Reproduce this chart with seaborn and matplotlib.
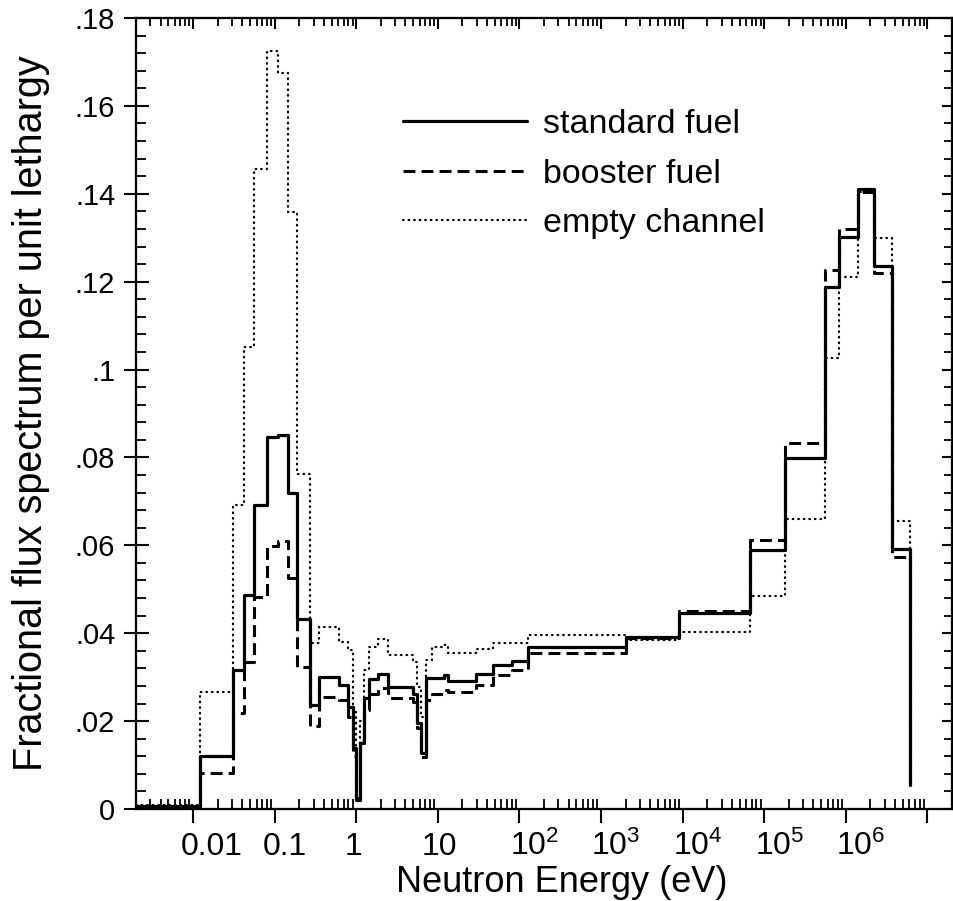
import numpy as np
import pandas as pd
import matplotlib
matplotlib.use("Agg")
import matplotlib.pyplot as plt
import matplotlib.ticker as mticker
import matplotlib.transforms as mtransforms
import seaborn as sns

# ---------------- data (group lower edges in eV, flux per unit lethargy) -------------
edges = [2e-3, 0.0121, 0.0309, 0.0418, 0.0562, 0.080, 0.109, 0.145, 0.187, 0.269,
         0.347, 0.61, 0.787, 0.91, 1.0, 1.1, 1.23, 1.42, 1.83, 2.42,
         4.9, 5.6, 6.3, 7.2, 8.4, 11.8, 13.5, 29, 47, 80,
         128, 2000, 9000, 67000, 1.8e5, 5.5e5, 8.2e5, 1.4e6, 2.2e6, 3.7e6,
         6.06e6]
standard_fuel = [0.0006, 0.0121, 0.0316, 0.0487, 0.0692, 0.0847, 0.0852, 0.0719, 0.0432, 0.0237,
                 0.0300, 0.0282, 0.0233, 0.0139, 0.0020, 0.0150, 0.0253, 0.0296, 0.0307, 0.0278,
                 0.0262, 0.0196, 0.0127, 0.0298, 0.0298, 0.0305, 0.0291, 0.0307, 0.0328, 0.0337,
                 0.0369, 0.0391, 0.0446, 0.0589, 0.0799, 0.1188, 0.1302, 0.1411, 0.1236, 0.0592,
                 0.0055]
booster_fuel = [0.0005, 0.0082, 0.0218, 0.0335, 0.0483, 0.0599, 0.0610, 0.0526, 0.0323, 0.0189,
                0.0255, 0.0248, 0.0210, 0.0120, 0.0025, 0.0157, 0.0225, 0.0262, 0.0275, 0.0253,
                0.0244, 0.0185, 0.0118, 0.0248, 0.0262, 0.0271, 0.0266, 0.0282, 0.0305, 0.0316,
                0.0355, 0.0389, 0.0451, 0.0612, 0.0833, 0.1227, 0.1320, 0.1405, 0.1220, 0.0574,
                0.0055]
empty_channel = [0.0008, 0.0267, 0.0692, 0.1052, 0.1457, 0.1725, 0.1675, 0.1359, 0.0762, 0.0378,
                 0.0415, 0.0380, 0.0362, 0.0220, 0.0120, 0.0200, 0.0316, 0.0369, 0.0387, 0.0350,
                 0.0335, 0.0278, 0.0210, 0.0339, 0.0369, 0.0373, 0.0355, 0.0364, 0.0378, 0.0378,
                 0.0396, 0.0385, 0.0403, 0.0485, 0.0660, 0.1027, 0.1211, 0.1405, 0.1299, 0.0656,
                 0.0055]
series_names = ["standard fuel", "booster fuel", "empty channel"]

x_ticks = [1e-2, 1e-1, 1, 10, 1e2, 1e3, 1e4, 1e5, 1e6, 1e7]
x_tick_labels = ["0.01", "0.1", "1", "10", "$10^2$", "$10^3$", "$10^4$", "$10^5$", "$10^6$", ""]
y_ticks = [0, 0.02, 0.04, 0.06, 0.08, 0.10, 0.12, 0.14, 0.16, 0.18]
y_tick_labels = ["0", ".02", ".04", ".06", ".08", ".1", ".12", ".14", ".16", ".18"]
x_limits = (2e-3, 2e7)
y_limits = (0, 0.18)

# ---------------- style ----------------
sns.set_theme(style="white")
plt.rcParams["font.family"] = ["Liberation Sans", "DejaVu Sans"]
plt.rcParams["mathtext.fontset"] = "custom"
plt.rcParams["mathtext.rm"] = "Liberation Sans"
plt.rcParams["mathtext.it"] = "Liberation Sans"
plt.rcParams["mathtext.default"] = "regular"
for key in ["text.color", "axes.labelcolor", "xtick.color", "ytick.color", "axes.edgecolor"]:
    plt.rcParams[key] = "black"

fig = plt.figure(figsize=(9.54, 9.01), dpi=100)
fig.patch.set_facecolor("white")
W, H = 954, 901
ax = fig.add_axes([136 / W, 1 - 809 / H, 816 / W, 791 / H])
ax.set_facecolor("white")

df = pd.DataFrame({
    "energy": edges * 3,
    "flux": standard_fuel + booster_fuel + empty_channel,
    "series": [series_names[0]] * len(edges) + [series_names[1]] * len(edges) + [series_names[2]] * len(edges),
})

styles = {
    "empty channel": dict(linewidth=1.6, linestyle=(0, (0.3, 2.2)), dash_capstyle="round"),
    "booster fuel": dict(linewidth=2.2, linestyle=(0, (3.9, 2.0)), dash_capstyle="butt"),
    "standard fuel": dict(linewidth=2.3, linestyle="-"),
}
for name in ["empty channel", "booster fuel", "standard fuel"]:
    sub = df[df["series"] == name]
    sns.lineplot(data=sub, x="energy", y="flux", ax=ax, color="black", estimator=None,
                 sort=False, drawstyle="steps-post", label=name, **styles[name])

ax.set_xscale("log")
ax.set_xlim(*x_limits)
ax.set_ylim(*y_limits)

# twin axes for inward ticks on top / right
ax_top = ax.twiny()
ax_right = ax.twinx()

ax_top.set_xscale("log")
ax_top.set_xlim(*x_limits)
ax_top.xaxis.set_major_locator(mticker.FixedLocator(x_ticks))
ax_top.xaxis.set_minor_locator(mticker.LogLocator(base=10, subs=np.arange(2, 10), numticks=100))
ax_top.tick_params(axis="x", which="major", direction="in", length=8, width=1.5,
                   top=True, bottom=False, labeltop=False, labelbottom=False)
ax_top.tick_params(axis="x", which="minor", direction="in", length=6, width=1.3,
                   top=True, bottom=False, labeltop=False, labelbottom=False)

ax_right.set_ylim(*y_limits)
ax_right.yaxis.set_major_locator(mticker.FixedLocator(y_ticks))
ax_right.yaxis.set_minor_locator(mticker.MultipleLocator(0.004))
ax_right.tick_params(axis="y", which="major", direction="in", length=7, width=1.5,
                     right=True, left=False, labelright=False, labelleft=False)
ax_right.tick_params(axis="y", which="minor", direction="in", length=6, width=1.3,
                     right=True, left=False, labelright=False, labelleft=False)

ax.xaxis.set_major_locator(mticker.FixedLocator(x_ticks))
ax.xaxis.set_minor_locator(mticker.LogLocator(base=10, subs=np.arange(2, 10), numticks=100))
ax.set_xticklabels(x_tick_labels)
ax.yaxis.set_major_locator(mticker.FixedLocator(y_ticks))
ax.yaxis.set_minor_locator(mticker.MultipleLocator(0.004))
ax.set_yticklabels(y_tick_labels)

ax.tick_params(axis="x", which="major", direction="out", length=10, width=1.5, pad=0,
               labelsize=23, bottom=True, top=False, colors="black")
ax.tick_params(axis="x", which="minor", direction="in", length=7, width=1.3, bottom=True, top=False)
ax.tick_params(axis="y", which="major", direction="inout", length=18, width=1.5, pad=6,
               labelsize=21, left=True, right=False, colors="black")
ax.tick_params(axis="y", which="minor", direction="in", length=7, width=1.3, left=True, right=False)

for a in (ax, ax_top, ax_right):
    for sp in a.spines.values():
        sp.set_visible(True)
        sp.set_color("black")
        sp.set_linewidth(1.5)

# x tick labels: baseline aligned, slight horizontal offsets as in the original
label_dx_px = [19, 10, -3, 2, 15, 15, 15, 15, 15, 0]
for tick, dx in zip(ax.xaxis.get_major_ticks(), label_dx_px):
    lab = tick.label1
    lab.set_verticalalignment("baseline")
    lab.set_transform(lab.get_transform() +
                      mtransforms.ScaledTranslation(dx / 100, -32 / 100, fig.dpi_scale_trans))

ax.set_xlabel("Neutron Energy (eV)", fontsize=26, color="black")
ax.xaxis.set_label_coords(0.522, -0.071)
ax.set_ylabel("Fractional flux spectrum per unit lethargy", fontsize=28.5, color="black")
ax.yaxis.set_label_coords(-0.105, 0.5)

h, l = ax.get_legend_handles_labels()
order = [l.index(n) for n in series_names]
leg = ax.legend([h[i] for i in order], [l[i] for i in order], loc="upper left",
                bbox_to_anchor=(0.327, 0.885), frameon=False, fontsize=24.5,
                handlelength=3.65, handletextpad=0.47, labelspacing=0.55,
                borderpad=0, borderaxespad=0, labelcolor="black")

fig.savefig("out.png", dpi=100, facecolor="white")
